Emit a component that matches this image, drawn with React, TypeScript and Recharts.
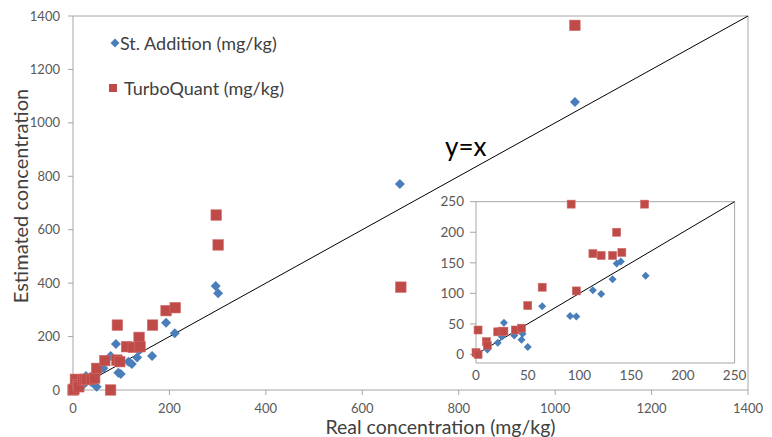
import React from 'react';
import { ScatterChart, Scatter, XAxis, YAxis, ReferenceLine, Legend } from 'recharts';

const FONT = 'Lato, "Liberation Sans", Arial, sans-serif';
const BLUE = '#4A7EBB';
const RED = '#BE4B48';
const AXIS = '#A6A6A6';
const TEXT = '#404040';

// Main chart data
const mainTicks = [0, 200, 400, 600, 800, 1000, 1200, 1400];
const stAdditionReal = [0, 11, 21, 25, 27, 37, 42, 49, 63, 78, 89, 94, 99, 115, 122, 133, 137, 140, 164, 193, 211, 296, 301, 678, 1041];
const stAdditionEst = [2, 8, 19, 30, 52, 31, 25, 12, 81, 127, 172, 65, 60, 106, 97, 122, 150, 153, 127, 252, 212, 389, 362, 771, 1078];
const turboReal = [0, 2, 5, 10, 12, 20, 25, 28, 38, 45, 49, 66, 78, 91, 92, 97, 111, 125, 137, 139, 165, 193, 212, 297, 301, 680, 1041];
const turboEst = [0, 3, 40, 20, 12, 38, 40, 40, 40, 45, 81, 110, 0, 112, 243, 106, 162, 160, 197, 162, 243, 297, 308, 655, 543, 385, 1365];
const mainIdentity = [0, 1400];

// Inset chart data
const insetTicks = [0, 50, 100, 150, 200, 250];
const insetStReal = [0, 11, 21, 25, 27, 37, 44, 45, 50, 64, 91, 97, 113, 121, 132, 136, 140, 164];
const insetStEst = [2, 8, 19, 29, 52, 31, 24, 34, 12, 79, 63, 62, 105, 99, 123, 149, 152, 129];
const insetTurboReal = [0, 2, 2, 10, 11, 21, 25, 27, 38, 44, 50, 64, 92, 97, 113, 121, 132, 136, 141, 163];
const insetTurboEst = [3, 0, 40, 21, 15, 37, 38, 38, 40, 43, 80, 110, 246, 104, 165, 162, 162, 200, 167, 246];
const insetIdentity = [0, 250];

const legendLabels = ['St. Addition (mg/kg)', 'TurboQuant (mg/kg)'];

const zip = (xs: number[], ys: number[]) => xs.map((x, i) => ({ x, y: ys[i] }));

const mainSt = zip(stAdditionReal, stAdditionEst);
const mainTurbo = zip(turboReal, turboEst);
const insetSt = zip(insetStReal, insetStEst);
const insetTurbo = zip(insetTurboReal, insetTurboEst);

const diamond = (size: number) => (props: any) => {
  const { cx, cy } = props;
  const r = size / 2;
  return (
    <polygon
      points={`${cx},${cy - r} ${cx + r},${cy} ${cx},${cy + r} ${cx - r},${cy}`}
      fill={BLUE}
    />
  );
};

const square = (size: number) => (props: any) => {
  const { cx, cy } = props;
  return <rect x={cx - size / 2} y={cy - size / 2} width={size} height={size} fill={RED} stroke="#D06a67" strokeWidth={0.6} />;
};

const renderLegend = () => (
  <div style={{ position: 'relative', width: 300, height: 100, fontFamily: FONT, fontSize: 18, color: TEXT }}>
    <svg width={10} height={10} style={{ position: 'absolute', left: 110, top: 38 }}>
      <polygon points="5,0.5 9.5,5 5,9.5 0.5,5" fill={BLUE} />
    </svg>
    <div style={{ position: 'absolute', left: 120, top: 32, whiteSpace: 'nowrap' }}>{legendLabels[0]}</div>
    <svg width={10} height={10} style={{ position: 'absolute', left: 108, top: 83 }}>
      <rect x={1} y={1} width={8} height={8} fill={RED} />
    </svg>
    <div style={{ position: 'absolute', left: 124, top: 77, whiteSpace: 'nowrap' }}>{legendLabels[1]}</div>
  </div>
);

export default function App() {
  const tickStyle = { fill: '#595959', fontSize: 13, fontFamily: FONT };
  return (
    <div style={{ position: 'absolute', left: 0, top: 0, width: 772, height: 437, background: '#fff' }}>
      <ScatterChart width={772} height={437} margin={{ top: 16, right: 24, left: 0, bottom: 0 }}>
        <XAxis
          type="number"
          dataKey="x"
          domain={[0, 1400]}
          ticks={mainTicks}
          interval={0}
          height={47}
          axisLine={{ stroke: AXIS }}
          tickLine={{ stroke: AXIS }}
          tickSize={5}
          tickMargin={9}
          tick={tickStyle}
          label={{ value: 'Real concentration (mg/kg)', position: 'insideBottom', offset: 3, dx: 30, style: { fontSize: 19.5, fontFamily: FONT, fill: TEXT } }}
        />
        <YAxis
          type="number"
          dataKey="y"
          domain={[0, 1400]}
          ticks={mainTicks}
          interval={0}
          width={73}
          axisLine={{ stroke: AXIS }}
          tickLine={{ stroke: AXIS }}
          tickSize={5}
          tickMargin={8}
          tick={tickStyle}
          label={{ value: 'Estimated concentration', angle: -90, position: 'insideLeft', offset: 21, dy: -7, style: { textAnchor: 'middle', fontSize: 20, fontFamily: FONT, fill: TEXT } }}
        />
        <ReferenceLine y={1400} stroke={AXIS} />
        <ReferenceLine x={1400} stroke={AXIS} />
        <ReferenceLine
          segment={[{ x: mainIdentity[0], y: mainIdentity[0] }, { x: mainIdentity[1], y: mainIdentity[1] }]}
          stroke="#000"
          strokeWidth={1}
        />
        <Scatter name={legendLabels[0]} data={mainSt} shape={diamond(10)} isAnimationActive={false} />
        <Scatter name={legendLabels[1]} data={mainTurbo} shape={square(10.5)} isAnimationActive={false} />
        <Legend
          content={renderLegend}
          layout="vertical"
          align="center"
          verticalAlign="middle"
          wrapperStyle={{ left: 0, top: 0, width: 300, height: 100 }}
        />
      </ScatterChart>

      <div style={{ position: 'absolute', left: 445, top: 130, fontFamily: FONT, fontSize: 26, color: '#000', whiteSpace: 'nowrap' }}>y=x</div>

      <div style={{ position: 'absolute', left: 430, top: 190 }}>
        <ScatterChart width={320} height={203} margin={{ top: 11.7, right: 15.4, left: 0, bottom: 5 }}>
          <XAxis
            type="number"
            dataKey="x"
            domain={[0, 250]}
            ticks={insetTicks}
            interval={0}
            height={25}
            axisLine={{ stroke: AXIS }}
            tickLine={false}
            tickSize={5}
            tickMargin={2}
            tick={{ ...tickStyle, fontSize: 13.5 }}
          />
          <YAxis
            type="number"
            dataKey="y"
            domain={[-14, 250]}
            ticks={insetTicks}
            interval={0}
            width={46}
            axisLine={{ stroke: AXIS }}
            tickLine={{ stroke: AXIS }}
            tickSize={6}
            tickMargin={6}
            tick={{ ...tickStyle, fontSize: 13.5 }}
          />
          <ReferenceLine y={250} stroke={AXIS} />
          <ReferenceLine x={250} stroke={AXIS} />
          <ReferenceLine
            segment={[{ x: insetIdentity[0], y: insetIdentity[0] }, { x: insetIdentity[1], y: insetIdentity[1] }]}
            stroke="#000"
            strokeWidth={1}
          />
          <Scatter data={insetSt} shape={diamond(8)} isAnimationActive={false} />
          <Scatter data={insetTurbo} shape={square(8)} isAnimationActive={false} />
        </ScatterChart>
      </div>
    </div>
  );
}
